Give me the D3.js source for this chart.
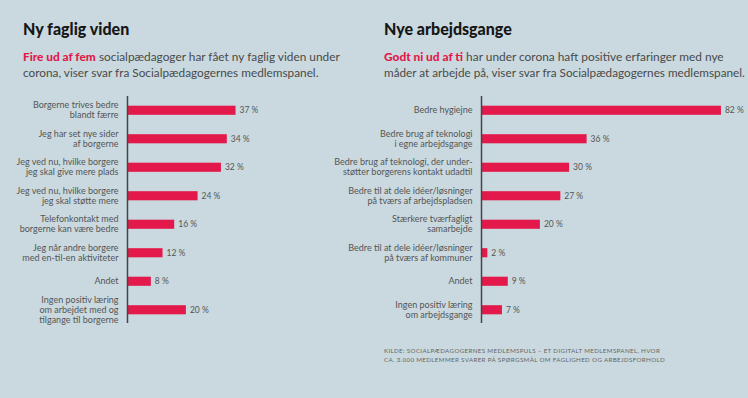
<!DOCTYPE html>
<html lang="da">
<head>
<meta charset="utf-8">
<script src="https://cdn.jsdelivr.net/npm/d3@7"></script>
<style>
  body { margin: 0; background: #c9d9df; }
  svg { display: block; font-family: Lato, "Open Sans", sans-serif; }
</style>
</head>
<body>
<svg width="748" height="398"></svg>
<script>
// left panel data
var leftLabels = [
  ["Borgerne trives bedre", "blandt færre"],
  ["Jeg har set nye sider", "af borgerne"],
  ["Jeg ved nu, hvilke borgere", "jeg skal give mere plads"],
  ["Jeg ved nu, hvilke borgere", "jeg skal støtte mere"],
  ["Telefonkontakt med", "borgerne kan være bedre"],
  ["Jeg når andre borgere", "med en-til-en aktiviteter"],
  ["Andet"],
  ["Ingen positiv læring", "om arbejdet med og", "tilgange til borgerne"]
];
var leftValues = [37, 34, 32, 24, 16, 12, 8, 20];

// right panel data
var rightLabels = [
  ["Bedre hygiejne"],
  ["Bedre brug af teknologi", "i egne arbejdsgange"],
  ["Bedre brug af teknologi, der under-", "støtter borgerens kontakt udadtil"],
  ["Bedre til at dele idéer/løsninger", "på tværs af arbejdspladsen"],
  ["Stærkere tværfagligt", "samarbejde"],
  ["Bedre til at dele idéer/løsninger", "på tværs af kommuner"],
  ["Andet"],
  ["Ingen positiv læring", "om arbejdsgange"]
];
var rightValues = [82, 36, 30, 27, 20, 2, 9, 7];

var RED = "#e3194b";
var svg = d3.select("svg");

svg.append("rect").attr("width", 748).attr("height", 398).attr("fill", "#c9d9df");

// shrink/grow a text's font so it spans the given width
function fit(sel, base, w) {
  var n = sel.node();
  var len = n.getComputedTextLength();
  sel.attr("font-size", base * w / len);
}

function panel(opts) {
  var g = svg.append("g");

  g.append("text")
    .attr("x", opts.left).attr("y", 35)
    .attr("font-size", 16).attr("font-weight", 900).attr("fill", "#161616")
    .text(opts.title);

  var sub = g.append("text")
    .attr("x", opts.left).attr("y", 61)
    .attr("font-size", 12).attr("fill", "#4a4a4a");
  sub.append("tspan").attr("font-weight", 900).attr("fill", RED).text(opts.lead);
  sub.append("tspan").text(" " + opts.sub1);
  fit(sub, 12, opts.w1);
  var sub2 = g.append("text")
    .attr("x", opts.left).attr("y", 77)
    .attr("font-size", 12).attr("fill", "#4a4a4a")
    .text(opts.sub2);
  fit(sub2, 12, opts.w2);

  var idx = d3.range(opts.values.length);
  var y = d3.scaleBand().domain(idx).range([96, 324]).paddingInner(0.68).paddingOuter(0.34);
  var x = d3.scaleLinear().domain([0, 100]).range([opts.axisX, opts.axisX + 292]);

  g.selectAll(".bar")
    .data(idx)
    .enter().append("rect")
    .attr("class", "bar")
    .attr("x", x(0))
    .attr("y", function(i) { return y(i); })
    .attr("width", function(i) { return x(opts.values[i]) - x(0); })
    .attr("height", y.bandwidth())
    .attr("fill", RED);

  g.selectAll(".val")
    .data(idx)
    .enter().append("text")
    .attr("class", "val")
    .attr("x", function(i) { return x(opts.values[i]) + 4; })
    .attr("y", function(i) { return y(i) + y.bandwidth() / 2; })
    .attr("dy", "0.35em")
    .attr("font-size", 8.5).attr("fill", "#555")
    .text(function(i) { return opts.values[i] + " %"; });

  var lab = g.selectAll(".lab")
    .data(idx)
    .enter().append("text")
    .attr("class", "lab")
    .attr("text-anchor", "end")
    .attr("font-size", 9).attr("fill", "#555");
  lab.each(function(i) {
    var lines = opts.labels[i];
    var c = y(i) + y.bandwidth() / 2;
    var t = d3.select(this);
    lines.forEach(function(l, k) {
      t.append("tspan")
        .attr("x", opts.axisX - 9)
        .attr("y", c + (k - (lines.length - 1) / 2) * 10)
        .attr("dy", "0.35em")
        .text(l);
    });
  });

  // vertical axis line
  g.append("line")
    .attr("x1", opts.axisX).attr("x2", opts.axisX)
    .attr("y1", 96).attr("y2", 323)
    .attr("stroke", "#444").attr("stroke-width", 1.5);
}

panel({
  left: 23, axisX: 127.5, w1: 317, w2: 296,
  title: "Ny faglig viden",
  lead: "Fire ud af fem",
  sub1: "socialpædagoger har fået ny faglig viden under",
  sub2: "corona, viser svar fra Socialpædagogernes medlemspanel.",
  labels: leftLabels, values: leftValues
});

panel({
  left: 384, axisX: 481.5, w1: 340, w2: 361,
  title: "Nye arbejdsgange",
  lead: "Godt ni ud af ti",
  sub1: "har under corona haft positive erfaringer med nye",
  sub2: "måder at arbejde på, viser svar fra Socialpædagogernes medlemspanel.",
  labels: rightLabels, values: rightValues
});

// source note
var foot = ["KILDE: SOCIALPÆDAGOGERNES MEDLEMSPULS – ET DIGITALT MEDLEMSPANEL, HVOR",
            "CA. 3.000 MEDLEMMER SVARER PÅ SPØRGSMÅL OM FAGLIGHED OG ARBEJDSFORHOLD"];
svg.selectAll(".foot")
  .data(foot)
  .enter().append("text")
  .attr("class", "foot")
  .attr("x", 384)
  .attr("y", function(d, i) { return 353 + i * 8.5; })
  .attr("font-size", 6.2).attr("letter-spacing", 0.35).attr("fill", "#666")
  .text(function(d) { return d; });
</script>
</body>
</html>
